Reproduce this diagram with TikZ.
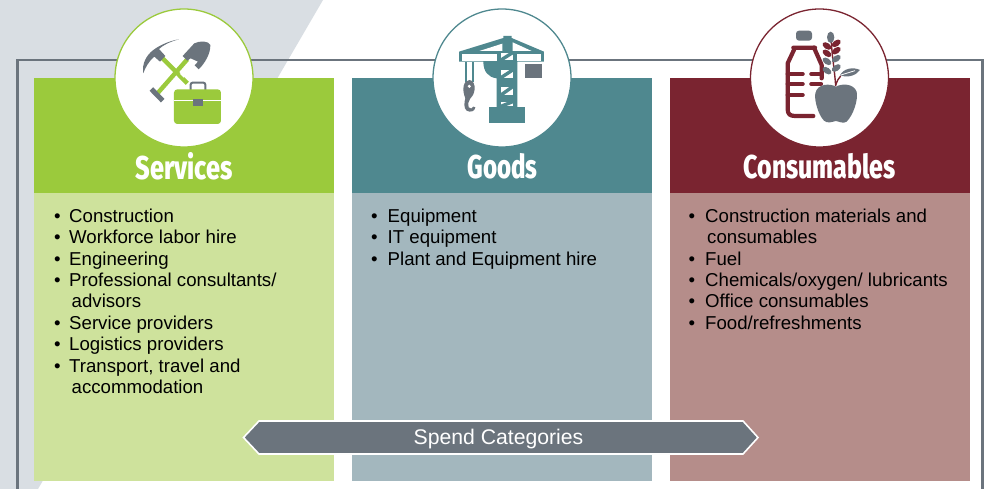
\documentclass[tikz,border=0pt]{standalone}
\usepackage{fontspec}
\usepackage{graphicx}
\setmainfont{Liberation Sans}
\newfontfamily\titlefont{Fira Sans}[BoldFont={Fira Sans ExtraBold}]
\definecolor{cGreen}{HTML}{9BCA3C}
\definecolor{cGreenL}{HTML}{CEE29C}
\definecolor{cTeal}{HTML}{4F888F}
\definecolor{cTealL}{HTML}{A3B7BE}
\definecolor{cMaroon}{HTML}{7A2430}
\definecolor{cMaroonL}{HTML}{B58D8A}
\definecolor{cGray}{HTML}{6B747D}
\definecolor{cBack}{HTML}{D9DEE3}
\newcommand{\bl}{\makebox[15pt][l]{•}}
\newcommand{\blw}{\makebox[16.5pt][l]{•}}
\newcommand{\cont}{\hspace*{18pt}}
\newcommand{\ttl}[2]{\resizebox{#1}{\height}{\titlefont\bfseries #2}}
\tikzset{
  x=1pt,y=-1pt,
  listtext/.style={anchor=north west,align=left,inner sep=0pt,text=black,
    font=\fontsize{18.65}{21.38}\selectfont},
  titletext/.style={text=white,inner sep=0pt,font=\fontsize{33}{36}\selectfont},
  iconcircle/.style={fill=white,draw=#1,line width=1.3pt,circle,minimum size=138pt,inner sep=0pt},
  zoomed/.style={shift={(#1,0)},x=0.3333pt,y=-0.3333pt},
}
\begin{document}
\begin{tikzpicture}
\useasboundingbox (0,0) rectangle (987,489);
\fill[white] (0,0) rectangle (987,489);
\fill[cBack] (0,0) -- (323,0) -- (38,489) -- (0,489) -- cycle;
\draw[cGray,line width=2.6pt] (17.5,489) -- (17.5,60) -- (982.5,60) -- (982.5,489);
% columns
\fill[cGreenL] (34,193) rectangle (334,481);
\fill[cGreen] (34,78) rectangle (334,193);
\fill[cTealL] (352,193) rectangle (652,481);
\fill[cTeal] (352,78) rectangle (652,193);
\fill[cMaroonL] (670,193) rectangle (970,481);
\fill[cMaroon] (670,78) rectangle (970,193);
% circles
\node[iconcircle=cGreen] (circS) at (184,78) {};
\node[iconcircle=cTeal] (circG) at (502,78) {};
\node[iconcircle=cMaroon] (circC) at (819.5,78) {};
% titles
\node[titletext] (tS) at (184,166) {\ttl{97pt}{Services}};
\node[titletext] (tG) at (502.5,166) {\ttl{70pt}{Goods}};
\node[titletext] (tC) at (819.5,166) {\ttl{152pt}{Consumables}};
% lists
\node[listtext] (lS) at (54,208.7) {\bl Construction\\\bl Workforce labor hire\\\bl Engineering\\\bl Professional consultants/\\\hspace*{17.5pt}advisors\\\bl Service providers\\\bl Logistics providers\\\bl Transport, travel and\\\hspace*{17.5pt}accommodation};
\node[listtext] (lG) at (371,208.7) {\blw Equipment\\\blw IT equipment\\\blw Plant and Equipment hire};
\node[listtext] (lC) at (688.5,208.7) {\blw Construction materials and\\\hspace*{18.5pt}consumables\\\blw Fuel\\\blw Chemicals/oxygen/ lubricants\\\blw Office consumables\\\blw Food/refreshments};
% banner
\draw[fill=cGray,draw=white,line width=1.6pt] (243.5,437.5) -- (259,421) -- (743,421) -- (758,437.5) -- (743,454) -- (259,454) -- cycle;
\node[text=white,inner sep=0pt,font=\fontsize{21.2}{24}\selectfont] (banner) at (498.5,439.5) {Spend Categories};
% services icon
\begin{scope}[zoomed=100]
  \draw[cGreen,line width=4.4pt] (262,250) -- (185,172);
  \draw[cGreen,line width=4.4pt] (262,178) -- (170,283);
  \fill[white] (240,222) -- (247,215) -- (258,226) -- (251,233) -- cycle;
  \draw[cGray,line width=5pt] (154,267) -- (188,302);
  \fill[cGray] (237,118) .. controls (210,125) and (190,135) .. (177,147)
    -- (196,168) -- (180,185) -- (163,170) .. controls (145,185) and (135,205) .. (130,220)
    .. controls (125,190) and (140,165) .. (160,150) .. controls (180,135) and (210,122) .. (237,118) -- cycle;
  \fill[cGray] (248,168) -- (283,130) .. controls (300,122) and (325,122) .. (331,135)
    .. controls (332,160) and (315,190) .. (296,208) -- (284,196) -- (294,185) -- (272,175) -- (262,182) -- cycle;
  \draw[cGray,line width=2pt,rounded corners=2pt] (272,270) -- (272,248) -- (316,248) -- (316,270);
  \fill[cGreen,rounded corners=3.3pt] (222,268) rectangle (363,372);
  \fill[white] (222,301) rectangle (363,304);
  \fill[cGray] (278,298) rectangle (310,318);
\end{scope}
% goods icon
\begin{scope}[zoomed=420]
  \fill[cTeal] (250,108) -- (275,108) -- (275,114) -- (372,155) -- (372,185) -- (292,185) -- (292,322)
    -- (230,322) -- (230,235) .. controls (205,232) and (190,215) .. (190,185) -- (117,185) -- (117,155) -- (250,114) -- cycle;
  \fill[white] (125,162) rectangle (230,183);
  \fill[white] (292,162) rectangle (362,183);
  \fill[white] (178,153) -- (247,131) -- (247,153) -- cycle;
  \fill[white] (278,127) -- (335,153) -- (278,153) -- cycle;
  \fill[cTeal] (207,322) rectangle (314,370);
  \foreach \ya/\yb in {158/180,210/233,260/285,305/319}{
    \fill[white] (243,\ya) rectangle (278,\yb);
    \draw[cTeal,line width=3.4pt] (243,\yb) -- (278,\ya);
  }
  \fill[cGray] (316,192) rectangle (366,233);
  \fill[cTeal] (135,185) rectangle (140,245);
  \fill[cTeal] (156,185) rectangle (161,245);
  \fill[cGray] (148,240) .. controls (160,240) and (165,255) .. (164,268)
    .. controls (162,285) and (155,290) .. (150,297) .. controls (145,305) and (142,315) .. (146,322)
    .. controls (150,328) and (158,326) .. (160,320) -- (166,322)
    .. controls (165,335) and (150,338) .. (140,332) .. controls (130,325) and (133,305) .. (136,295)
    .. controls (132,285) and (128,270) .. (131,258) .. controls (133,248) and (140,240) .. (148,240) -- cycle;
  \fill[white] (148,259) circle[radius=5];
\end{scope}
% consumables icon
\begin{scope}[zoomed=740]
  \fill[cGray,rounded corners=3pt] (168,92) rectangle (216,122);
  \draw[cMaroon,line width=4.2pt,line cap=round,line join=round]
    (160,143) -- (225,143) (165,143) -- (143,190) -- (143,328)
    .. controls (143,342) and (150,348) .. (165,348) -- (220,348);
  \draw[cMaroon,line width=4.2pt,line cap=round,line join=round]
    (222,143) -- (245,195) -- (245,235);
  \foreach \yy in {222,252,285}{\draw[cMaroon,line width=4.2pt,line cap=round] (143,\yy) -- (188,\yy);}
  \foreach \yy in {222,252}{\draw[cMaroon,line width=4.2pt,line cap=round] (214,\yy) -- (243,\yy);}
  % wheat
  \draw[cMaroon,line width=1.4pt] (274,125) .. controls (276,170) and (284,210) .. (287,258);
  \fill[cGray] (272,112) ellipse[x radius=11,y radius=17];
  \foreach \yy/\cc in {138/cMaroon,160/cMaroon,184/cGray,212/cGray}{
    \fill[\cc,rotate around={-35:(261,\yy)}] (261,\yy) ellipse[x radius=15,y radius=9];
    \fill[\cc,rotate around={35:(289,\yy-8)}] (289,\yy-8) ellipse[x radius=15,y radius=9];
  }
  % leaves
  \fill[cGray] (300,226) .. controls (310,205) and (340,200) .. (360,210) .. controls (350,225) and (325,235) .. (300,226) -- cycle;
  \draw[white,line width=.8pt] (303,225) -- (345,212);
  \draw[cMaroon,line width=1.4pt] (287,255) .. controls (290,245) and (295,235) .. (302,228);
  % apple
  \fill[cGray] (288,260) .. controls (305,250) and (340,250) .. (350,275)
    .. controls (355,300) and (340,345) .. (320,365) .. controls (310,372) and (298,365) .. (288,363)
    .. controls (278,365) and (262,372) .. (252,362) .. controls (235,345) and (222,300) .. (226,280)
    .. controls (232,250) and (270,250) .. (288,260) -- cycle;
\end{scope}
\end{tikzpicture}
\end{document}
